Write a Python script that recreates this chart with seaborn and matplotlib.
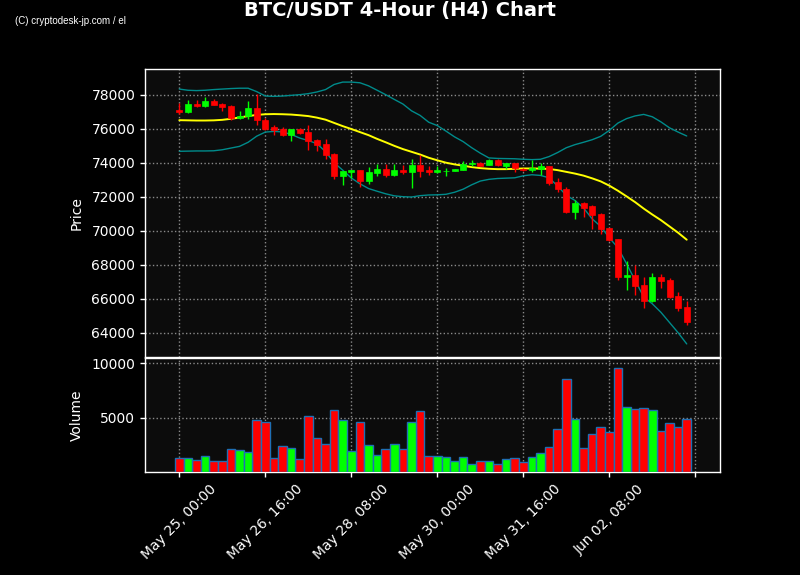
import numpy as np
import pandas as pd
import matplotlib
matplotlib.use("Agg")
import matplotlib.pyplot as plt
import seaborn as sns

# ---------------- data ----------------
opens = [77078, 76980, 77431, 77333, 77608, 77431, 77314, 76627, 76725, 77196,
         76510, 76098, 75961, 75647, 75961, 75784, 75314, 75078, 74490, 73216,
         73431, 73549, 72902, 73373, 73608, 73274, 73549, 73431, 73843, 73549,
         73431, 73490, 73510, 73569, 73902, 74000, 73843, 74137, 73804, 73961,
         73647, 73549, 73647, 73784, 72863, 72470, 71098, 71608, 71431, 70961,
         70137, 69490, 67274, 67372, 66784, 65843, 67274, 67078, 66157, 65490]
highs = [77510, 77667, 77706, 77863, 77765, 77510, 77372, 77059, 77608, 78059,
         76627, 76196, 76098, 76000, 76039, 76196, 75412, 75412, 74588, 73500,
         73588, 73588, 73745, 73941, 73902, 73941, 73882, 74196, 74451, 73784,
         73784, 73706, 73647, 74098, 74137, 74040, 74235, 74196, 74000, 74000,
         73706, 74176, 73980, 73823, 73098, 72569, 71784, 71686, 71490, 71039,
         70176, 69529, 68196, 67961, 67274, 67529, 67470, 67235, 66392, 65862]
lows = [76882, 76950, 77274, 77294, 77372, 77020, 76529, 76588, 76588, 76235,
        75941, 75647, 75569, 75294, 75706, 74765, 74666, 74235, 73059, 72706,
        73118, 72569, 72765, 73235, 73157, 73216, 73333, 72510, 73157, 73274,
        73392, 73235, 73490, 73549, 73823, 73784, 73843, 73784, 73647, 73451,
        73490, 73451, 73255, 72667, 72274, 71039, 70706, 70804, 70118, 69784,
        69392, 67117, 66490, 66235, 65470, 65804, 66647, 66059, 65274, 64431]
closes = [76980, 77431, 77333, 77608, 77392, 77274, 76627, 76725, 77196, 76510,
          75980, 75921, 75608, 75961, 75745, 75294, 75059, 74470, 73196, 73490,
          73549, 72902, 73431, 73608, 73255, 73549, 73431, 73843, 73490, 73431,
          73549, 73530, 73627, 73941, 74000, 73823, 74137, 73843, 73961, 73706,
          73549, 73706, 73784, 72804, 72431, 71098, 71608, 71333, 70902, 70098,
          69431, 67274, 67392, 66745, 65843, 67274, 67020, 66098, 65450, 64627]
volumes = [1310, 1310, 1131, 1488, 1042, 1042, 2113, 2024, 1845, 4792,
           4613, 1310, 2381, 2203, 1220, 5149, 3095, 2560, 5684, 4792,
           1935, 4613, 2470, 1577, 2113, 2560, 2113, 4613, 5595, 1488,
           1488, 1399, 1042, 1399, 774, 1042, 1042, 774, 1220, 1310,
           953, 1399, 1756, 2292, 3988, 8541, 4881, 2203, 3452, 4167,
           3720, 9524, 5952, 5774, 5863, 5684, 3810, 4524, 4167, 4881]
ma20 = [76500, 76490, 76480, 76480, 76490, 76520, 76580, 76660, 76740, 76810,
        76850, 76860, 76850, 76830, 76790, 76740, 76650, 76530, 76340, 76150,
        75980, 75800, 75620, 75400, 75200, 74990, 74800, 74640, 74480, 74290,
        74140, 74000, 73900, 73820, 73740, 73680, 73640, 73620, 73620, 73640,
        73660, 73660, 73650, 73630, 73560, 73460, 73360, 73240, 73080, 72900,
        72650, 72350, 72020, 71680, 71300, 70950, 70620, 70250, 69880, 69470]
upper_band = [78330, 78260, 78240, 78260, 78300, 78330, 78360, 78380, 78380, 78180,
              77920, 77900, 77920, 77960, 78000, 78060, 78160, 78300, 78600, 78740,
              78740, 78700, 78520, 78260, 78000, 77720, 77450, 77050, 76780, 76380,
              76180, 75860, 75520, 75240, 74880, 74560, 74280, 74250, 74240, 74230,
              74200, 74180, 74200, 74360, 74600, 74880, 75060, 75200, 75350, 75550,
              75900, 76330, 76590, 76750, 76840, 76700, 76400, 76050, 75800, 75570]
lower_band = [74670, 74680, 74690, 74690, 74700, 74760, 74860, 74960, 75200, 75560,
              75800, 75840, 75810, 75660, 75450, 75300, 75120, 74650, 74000, 73560,
              73100, 72760, 72480, 72320, 72170, 72050, 72000, 71980, 72060, 72100,
              72110, 72140, 72260, 72440, 72700, 72920, 73020, 73070, 73090, 73110,
              73230, 73290, 73250, 73110, 72620, 72080, 71780, 71340, 70700, 70250,
              69580, 69000, 68060, 67080, 66100, 65700, 65200, 64600, 64000, 63340]
tick_pos = [0, 10, 20, 30, 40, 50, 60]
tick_labels = ["May 25, 00:00", "May 26, 16:00", "May 28, 08:00", "May 30, 00:00",
               "May 31, 16:00", "Jun 02, 08:00", ""]
title = "BTC/USDT 4-Hour (H4) Chart"
watermark = "(C) cryptodesk-jp.com / el"

# ---------------- styling ----------------
sns.set_style("dark")
plt.rcParams['font.family'] = ['DejaVu Sans']
BG_FIG = "#000000"
BG_AX = "#0c0c0c"
UP = "#00ff00"
DOWN = "#ff0000"

n = len(closes)
idx = np.arange(n)
df = pd.DataFrame({"idx": idx, "open": opens, "high": highs, "low": lows,
                   "close": closes, "volume": volumes, "ma": ma20,
                   "upper": upper_band, "lower": lower_band})
df["dir"] = np.where(df["close"] >= df["open"], "up", "down")
colors = np.where(df["dir"] == "up", UP, DOWN)

fig = plt.figure(figsize=(8, 5.75), dpi=100, facecolor=BG_FIG)
ax = fig.add_axes([0.18125, 0.3791, 0.71875, 0.5009])
axv = fig.add_axes([0.18125, 0.1791, 0.71875, 0.1983], sharex=ax)

for a in (ax, axv):
    a.set_facecolor(BG_AX)
    for s in a.spines.values():
        s.set_color("white")
        s.set_linewidth(1.0)
        s.set_visible(True)
    a.tick_params(colors="white", labelsize=10, length=3.5, width=1, direction="out",
                  left=True, bottom=True)
    a.grid(True, color="#8a8a8a", linestyle=":", linewidth=1.0)
    a.set_axisbelow(True)

# Bollinger bands and moving average
sns.lineplot(data=df, x="idx", y="upper", ax=ax, color="#008b8b", linewidth=1.0)
sns.lineplot(data=df, x="idx", y="lower", ax=ax, color="#008b8b", linewidth=1.0)
sns.lineplot(data=df, x="idx", y="ma", ax=ax, color="#ffff00", linewidth=1.4)

# candles
ax.vlines(df["idx"], df["low"], df["high"], colors=colors, linewidth=1.0, zorder=3)
body_bottom = np.minimum(df["open"], df["close"])
body_h = np.abs(df["close"] - df["open"]).clip(lower=25)
ax.bar(df["idx"], body_h, bottom=body_bottom, width=0.7, color=colors,
       edgecolor=colors, linewidth=0.5, zorder=4)

# volume
sns.barplot(data=df, x="idx", y="volume", hue="dir",
            palette={"up": UP, "down": DOWN}, dodge=False, native_scale=True,
            width=1.0, saturation=1, edgecolor="#1f6fb4", linewidth=1.0,
            errorbar=None, legend=False, ax=axv, zorder=3)

ax.set_xlim(-3.99, 62.87)
ax.set_xticks(tick_pos)
axv.set_xticks(tick_pos)
axv.set_xticklabels(tick_labels, rotation=45, color="white", fontsize=10)
plt.setp(ax.get_xticklabels(), visible=False)
ax.tick_params(axis="x", length=0)

ax.set_yticks([64000, 66000, 68000, 70000, 72000, 74000, 76000, 78000])
axv.set_ylim(0, max(volumes) * 1.1)
axv.set_yticks([5000, 10000])

ax.set_ylabel("Price", color="white", fontsize=10)
axv.set_ylabel("Volume", color="white", fontsize=10)
ax.set_xlabel("")
axv.set_xlabel("")
ax.yaxis.set_label_coords(-0.106, 0.5)
axv.yaxis.set_label_coords(-0.106, 0.5)

fig.text(0.5, 0.981, title, ha="center", va="center", color="white",
         fontsize=14, fontweight="bold")
fig.text(0.019, 0.963, watermark, ha="left", va="center", color="white",
         fontsize=7, family=["Liberation Sans", "DejaVu Sans"])

fig.savefig("out.png", dpi=100, facecolor=BG_FIG)
